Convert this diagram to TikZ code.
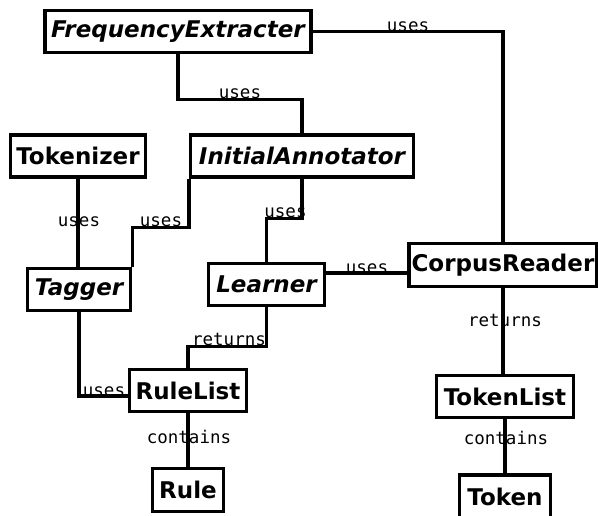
\documentclass[tikz,border=0pt]{standalone}
\usepackage{fontspec}
\setmainfont{DejaVu Sans}
\newfontfamily\labelmono{DejaVu Sans Mono}
\begin{document}
\begin{tikzpicture}[x=1pt,y=-1pt,
  cls/.style={draw, line width=3.4pt, inner sep=0pt, minimum height=42pt,
    font=\fontsize{23}{25}\selectfont\bfseries},
  abstractcls/.style={cls, font=\fontsize{23}{25}\selectfont\bfseries\itshape},
  lbl/.style={inner sep=0pt, anchor=base, font=\fontsize{17.5}{19}\selectfont\labelmono},
  link/.style={line width=3.4pt}]
\useasboundingbox (0,0) rectangle (598,515);

% classes
\node[abstractcls, minimum width=266] (fe) at (178,31.5) {FrequencyExtracter};
\node[cls, minimum width=135] (tok) at (78,156) {Tokenizer};
\node[abstractcls, minimum width=223] (ia) at (302,156) {InitialAnnotator};
\node[abstractcls, minimum width=103] (tag) at (79,289.5) {Tagger};
\node[abstractcls, minimum width=116] (le) at (266.5,284.5) {Learner};
\node[cls, minimum width=188, minimum height=43pt] (cr) at (503,265) {CorpusReader};
\node[cls, minimum width=117] (rl) at (188,390.5) {RuleList};
\node[cls, minimum width=71, minimum height=43pt] (rule) at (188,490) {Rule};
\node[cls, minimum width=137] (tl) at (505,396.5) {TokenList};
\node[cls, minimum width=91, minimum height=43pt] (token) at (505,496.5) {Token};

% helper points on the connectors
\path ([yshift=11.5pt]le.east) coordinate (lecr);
\path ([yshift=-5.5pt]rl.west) coordinate (tagrl);

% connectors
\draw[link] (fe.south) -- ++(0,45.5) -| (ia.north);
\draw[link] (fe.east) -| (cr.north);
\draw[link] (tok.south) -- (tok.south |- tag.north);
\draw[link] (ia.south west) -- ++(0,49) -| (tag.north east);
\draw[link] (ia.south) -- ++(0,40) -| (le.north);
\draw[link] (lecr) -- (lecr -| cr.west);
\draw[link] (le.south) -- ++(0,39.5) -| (rl.north);
\draw[link] (tag.south) |- (tagrl);
\draw[link] (rl.south) -- (rule.north);
\draw[link] (cr.south) -- (cr.south |- tl.north);
\draw[link] (tl.south) -- (token.north);

% connector labels
\node[lbl] (u1) at (240,98.5) {uses};
\node[lbl] (u2) at (408,31) {uses};
\node[lbl] (u3) at (79,226) {uses};
\node[lbl] (u4) at (161,226) {uses};
\node[lbl] (u5) at (285.5,217) {uses};
\node[lbl] (u6) at (367,273) {uses};
\node[lbl] (r1) at (229,345) {returns};
\node[lbl] (u7) at (104,396) {uses};
\node[lbl] (c1) at (189,443) {contains};
\node[lbl] (r2) at (505,326) {returns};
\node[lbl] (c2) at (506,444) {contains};
\end{tikzpicture}
\end{document}
